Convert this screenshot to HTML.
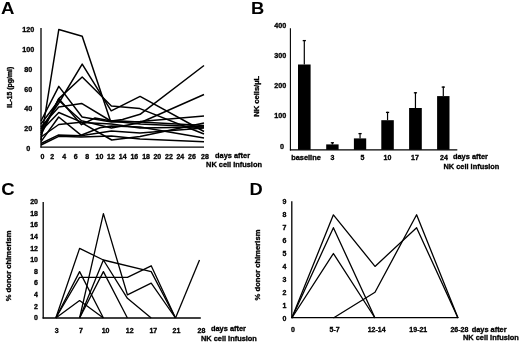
<!DOCTYPE html>
<html><head><meta charset="utf-8"><style>
html,body{margin:0;padding:0;background:#fff;width:520px;height:342px;overflow:hidden}
svg{display:block;will-change:transform}
text{font-family:"Liberation Sans",sans-serif;fill:#000;stroke:#000;stroke-width:0.32px}
polyline,line{fill:none;stroke:#000;stroke-linejoin:round;stroke-linecap:butt}
</style></head><body>
<svg width="520" height="342" viewBox="0 0 520 342">
<text x="0" y="0" font-size="17.4" font-weight="bold" style="stroke-width:0" transform="translate(1.0,13.5) scale(1.07,1)">A</text>
<line x1="41" y1="28" x2="41" y2="147.6" stroke-width="1.3"/>
<line x1="40.4" y1="147.2" x2="204" y2="147.2" stroke-width="1.3"/>
<text x="28.3" y="151.2" font-size="7.2" text-anchor="middle" font-weight="bold" >0</text>
<text x="28.3" y="131.32" font-size="7.2" text-anchor="middle" font-weight="bold" >20</text>
<text x="28.3" y="111.44" font-size="7.2" text-anchor="middle" font-weight="bold" >40</text>
<text x="28.3" y="91.55999999999999" font-size="7.2" text-anchor="middle" font-weight="bold" >60</text>
<text x="28.3" y="71.67999999999999" font-size="7.2" text-anchor="middle" font-weight="bold" >80</text>
<text x="28.3" y="51.800000000000004" font-size="7.2" text-anchor="middle" font-weight="bold" >100</text>
<text x="28.3" y="31.919999999999995" font-size="7.2" text-anchor="middle" font-weight="bold" >120</text>
<text x="42.5" y="159" font-size="7" text-anchor="middle" font-weight="bold" >0</text>
<text x="52.2" y="159" font-size="7" text-anchor="middle" font-weight="bold" >2</text>
<text x="64.2" y="159" font-size="7" text-anchor="middle" font-weight="bold" >4</text>
<text x="75.7" y="159" font-size="7" text-anchor="middle" font-weight="bold" >6</text>
<text x="87.3" y="159" font-size="7" text-anchor="middle" font-weight="bold" >8</text>
<text x="99.4" y="159" font-size="7" text-anchor="middle" font-weight="bold" >10</text>
<text x="111" y="159" font-size="7" text-anchor="middle" font-weight="bold" >12</text>
<text x="122.7" y="159" font-size="7" text-anchor="middle" font-weight="bold" >14</text>
<text x="134.3" y="159" font-size="7" text-anchor="middle" font-weight="bold" >16</text>
<text x="146.1" y="159" font-size="7" text-anchor="middle" font-weight="bold" >18</text>
<text x="157.3" y="159" font-size="7" text-anchor="middle" font-weight="bold" >20</text>
<text x="169" y="159" font-size="7" text-anchor="middle" font-weight="bold" >22</text>
<text x="180.3" y="159" font-size="7" text-anchor="middle" font-weight="bold" >24</text>
<text x="192" y="159" font-size="7" text-anchor="middle" font-weight="bold" >26</text>
<text x="205" y="159" font-size="7" text-anchor="middle" font-weight="bold" >28</text>
<text x="215.1" y="158.3" font-size="7.4" text-anchor="start" font-weight="bold" >days after</text>
<text x="206.1" y="166.8" font-size="7.4" text-anchor="start" font-weight="bold" >NK cell infusion</text>
<text x="0" y="0" font-size="6.9" text-anchor="middle" font-weight="bold" transform="translate(12.0,87.2) rotate(-90)">IL-15 (pg/ml)</text>
<polyline points="41.0,140.0 58.8,29.5 82.2,36.2 110.5,121.0 140.1,124.0 204.0,127.0" stroke-width="1.5"/>
<polyline points="41.0,129.0 58.8,103.0 82.2,64.1 111.2,110.8 140.1,96.4 204.0,131.5" stroke-width="1.5"/>
<polyline points="41.0,135.0 58.8,98.6 82.2,77.0 111.4,106.0 139.9,108.6 204.0,134.0" stroke-width="1.5"/>
<polyline points="41.0,121.0 58.8,86.4 82.1,117.0 111.4,122.0 140.0,121.5 204.0,116.0" stroke-width="1.5"/>
<polyline points="41.0,133.0 58.8,98.7 81.5,124.7 95.0,118.0 111.4,121.0 122.5,119.5 140.1,114.3 204.0,65.5" stroke-width="1.5"/>
<polyline points="41.0,124.0 58.8,100.5 81.5,120.8 111.4,128.0 140.1,122.7 204.0,94.5" stroke-width="1.5"/>
<polyline points="41.0,127.0 58.8,107.0 81.6,103.4 110.0,120.5 140.0,122.0 204.0,125.5" stroke-width="1.5"/>
<polyline points="41.0,137.0 58.8,124.5 81.0,122.3 111.7,140.0 140.0,136.5 204.0,123.0" stroke-width="1.5"/>
<polyline points="41.0,141.6 58.7,117.0 81.0,135.2 100.0,127.8 111.4,126.0 140.0,127.0 204.0,138.0" stroke-width="1.5"/>
<polyline points="41.0,143.5 58.2,135.1 81.0,135.7 111.4,131.0 140.0,133.0 204.0,128.0" stroke-width="1.5"/>
<polyline points="41.0,145.0 58.7,136.3 81.0,137.0 111.4,136.0 140.0,139.0 204.0,141.8" stroke-width="1.5"/>
<polyline points="41.0,131.0 58.8,112.5 82.1,122.4 111.4,124.0 140.0,128.0 204.0,127.0" stroke-width="1.5"/>
<text x="0" y="0" font-size="17.2" font-weight="bold" style="stroke-width:0" transform="translate(251.1,13.7) scale(1.07,1)">B</text>
<line x1="290.4" y1="28.2" x2="290.4" y2="150.4" stroke-width="1.1"/>
<line x1="289.9" y1="149.85" x2="457.3" y2="149.85" stroke-width="1.3"/>
<text x="282.1" y="148.5" font-size="7.2" text-anchor="middle" font-weight="bold" >0</text>
<text x="286.2" y="118.38" font-size="7.2" text-anchor="end" font-weight="bold" >100</text>
<text x="286.2" y="88.25999999999999" font-size="7.2" text-anchor="end" font-weight="bold" >200</text>
<text x="286.2" y="58.14" font-size="7.2" text-anchor="end" font-weight="bold" >300</text>
<text x="286.2" y="28.019999999999996" font-size="7.2" text-anchor="end" font-weight="bold" >400</text>
<rect x="298" y="64.5" width="12.60" height="85.30" fill="#000" stroke="none"/>
<line x1="304.3" y1="40" x2="304.3" y2="64.5" stroke-width="1.2"/>
<line x1="302.7" y1="40.6" x2="305.90000000000003" y2="40.6" stroke-width="1.3"/>
<rect x="326.2" y="144.4" width="12.40" height="5.40" fill="#000" stroke="none"/>
<line x1="332.4" y1="142.2" x2="332.4" y2="144.4" stroke-width="1.2"/>
<line x1="330.79999999999995" y1="142.79999999999998" x2="334.0" y2="142.79999999999998" stroke-width="1.3"/>
<rect x="353.9" y="138.4" width="12.30" height="11.40" fill="#000" stroke="none"/>
<line x1="360.04999999999995" y1="133" x2="360.04999999999995" y2="138.4" stroke-width="1.2"/>
<line x1="358.44999999999993" y1="133.6" x2="361.65" y2="133.6" stroke-width="1.3"/>
<rect x="381.3" y="120.2" width="12.50" height="29.60" fill="#000" stroke="none"/>
<line x1="387.55" y1="111.8" x2="387.55" y2="120.2" stroke-width="1.2"/>
<line x1="385.95" y1="112.39999999999999" x2="389.15000000000003" y2="112.39999999999999" stroke-width="1.3"/>
<rect x="409.1" y="108" width="12.70" height="41.80" fill="#000" stroke="none"/>
<line x1="415.45000000000005" y1="92.2" x2="415.45000000000005" y2="108" stroke-width="1.2"/>
<line x1="413.85" y1="92.8" x2="417.05000000000007" y2="92.8" stroke-width="1.3"/>
<rect x="437.1" y="96.1" width="12.40" height="53.70" fill="#000" stroke="none"/>
<line x1="443.3" y1="86.5" x2="443.3" y2="96.1" stroke-width="1.2"/>
<line x1="441.7" y1="87.1" x2="444.90000000000003" y2="87.1" stroke-width="1.3"/>
<text x="306" y="159.8" font-size="7.4" text-anchor="middle" font-weight="bold" >baseline</text>
<text x="332.5" y="159.8" font-size="7" text-anchor="middle" font-weight="bold" >3</text>
<text x="362.5" y="159.8" font-size="7" text-anchor="middle" font-weight="bold" >5</text>
<text x="387.5" y="159.8" font-size="7" text-anchor="middle" font-weight="bold" >10</text>
<text x="415" y="159.8" font-size="7" text-anchor="middle" font-weight="bold" >17</text>
<text x="444" y="159.8" font-size="7" text-anchor="middle" font-weight="bold" >24</text>
<text x="453" y="159" font-size="7.4" text-anchor="start" font-weight="bold" >days after</text>
<text x="443.5" y="168.5" font-size="7.4" text-anchor="start" font-weight="bold" >NK cell infusion</text>
<text x="0" y="0" font-size="7.6" text-anchor="middle" font-weight="bold" transform="translate(259.3,96.3) rotate(-90)">NK cells/µL</text>
<text x="0" y="0" font-size="17.3" font-weight="bold" style="stroke-width:0" transform="translate(1.2,195.3) scale(1.07,1)">C</text>
<line x1="43.2" y1="202" x2="43.2" y2="318.5" stroke-width="1.3"/>
<line x1="42.6" y1="318" x2="200.8" y2="318" stroke-width="1.3"/>
<text x="38" y="320.1" font-size="7" text-anchor="end" font-weight="bold" >0</text>
<text x="38" y="308.5" font-size="7" text-anchor="end" font-weight="bold" >2</text>
<text x="38" y="296.90000000000003" font-size="7" text-anchor="end" font-weight="bold" >4</text>
<text x="38" y="285.3" font-size="7" text-anchor="end" font-weight="bold" >6</text>
<text x="38" y="273.70000000000005" font-size="7" text-anchor="end" font-weight="bold" >8</text>
<text x="38" y="262.1" font-size="7" text-anchor="end" font-weight="bold" >10</text>
<text x="38" y="250.50000000000003" font-size="7" text-anchor="end" font-weight="bold" >12</text>
<text x="38" y="238.90000000000003" font-size="7" text-anchor="end" font-weight="bold" >14</text>
<text x="38" y="227.3" font-size="7" text-anchor="end" font-weight="bold" >16</text>
<text x="38" y="215.70000000000005" font-size="7" text-anchor="end" font-weight="bold" >18</text>
<text x="38" y="204.10000000000002" font-size="7" text-anchor="end" font-weight="bold" >20</text>
<text x="56.7" y="332.5" font-size="7" text-anchor="middle" font-weight="bold" >3</text>
<text x="80.9" y="332.5" font-size="7" text-anchor="middle" font-weight="bold" >7</text>
<text x="105.6" y="332.5" font-size="7" text-anchor="middle" font-weight="bold" >10</text>
<text x="129.7" y="332.5" font-size="7" text-anchor="middle" font-weight="bold" >12</text>
<text x="153.3" y="332.5" font-size="7" text-anchor="middle" font-weight="bold" >17</text>
<text x="176.5" y="332.5" font-size="7" text-anchor="middle" font-weight="bold" >21</text>
<text x="201.5" y="332.5" font-size="7" text-anchor="middle" font-weight="bold" >28</text>
<text x="211" y="331.3" font-size="7.4" text-anchor="start" font-weight="bold" >days after</text>
<text x="201" y="340.6" font-size="7.4" text-anchor="start" font-weight="bold" >NK cell infusion</text>
<text x="0" y="0" font-size="7.65" text-anchor="middle" font-weight="bold" transform="translate(11.3,265.9) rotate(-90)">% donor chimerism</text>
<polyline points="55.8,318.0 79.6,248.4 103.4,260.0 151.2,271.6 175.5,318.0" stroke-width="1.3"/>
<polyline points="79.6,318.0 103.4,213.6 127.4,294.8 151.2,283.2 175.5,318.0" stroke-width="1.3"/>
<polyline points="55.8,318.0 79.6,271.6 103.4,318.0" stroke-width="1.3"/>
<polyline points="55.8,318.0 79.6,277.4 127.4,277.4 151.2,265.8 175.5,318.0" stroke-width="1.3"/>
<polyline points="55.8,318.0 79.6,300.6 103.4,318.0" stroke-width="1.3"/>
<polyline points="79.6,318.0 103.4,271.6 127.4,318.0" stroke-width="1.3"/>
<polyline points="79.6,318.0 103.4,260.0 127.4,298.3 151.2,318.0" stroke-width="1.3"/>
<polyline points="175.5,318.0 199.5,260.0" stroke-width="1.3"/>
<text x="0" y="0" font-size="17.1" font-weight="bold" style="stroke-width:0" transform="translate(249.6,195.3) scale(1.07,1)">D</text>
<line x1="291.8" y1="201.2" x2="291.8" y2="318.3" stroke-width="1.3"/>
<line x1="291.3" y1="317.7" x2="458.3" y2="317.7" stroke-width="1.3"/>
<text x="286.4" y="320.5" font-size="7" text-anchor="end" font-weight="bold" >0</text>
<text x="286.4" y="307.6" font-size="7" text-anchor="end" font-weight="bold" >1</text>
<text x="286.4" y="294.7" font-size="7" text-anchor="end" font-weight="bold" >2</text>
<text x="286.4" y="281.8" font-size="7" text-anchor="end" font-weight="bold" >3</text>
<text x="286.4" y="268.9" font-size="7" text-anchor="end" font-weight="bold" >4</text>
<text x="286.4" y="256.0" font-size="7" text-anchor="end" font-weight="bold" >5</text>
<text x="286.4" y="243.1" font-size="7" text-anchor="end" font-weight="bold" >6</text>
<text x="286.4" y="230.2" font-size="7" text-anchor="end" font-weight="bold" >7</text>
<text x="286.4" y="217.3" font-size="7" text-anchor="end" font-weight="bold" >8</text>
<text x="286.4" y="204.39999999999998" font-size="7" text-anchor="end" font-weight="bold" >9</text>
<text x="293" y="332" font-size="7" text-anchor="middle" font-weight="bold" >0</text>
<text x="334.6" y="332" font-size="7" text-anchor="middle" font-weight="bold" >5-7</text>
<text x="376.6" y="332" font-size="7" text-anchor="middle" font-weight="bold" >12-14</text>
<text x="418.3" y="332" font-size="7" text-anchor="middle" font-weight="bold" >19-21</text>
<text x="459.4" y="332" font-size="7" text-anchor="middle" font-weight="bold" >26-28</text>
<text x="471.7" y="331.6" font-size="7.4" text-anchor="start" font-weight="bold" >days after</text>
<text x="463" y="340.3" font-size="7.4" text-anchor="start" font-weight="bold" >NK cell infusion</text>
<text x="0" y="0" font-size="7.65" text-anchor="middle" font-weight="bold" transform="translate(260.4,265) rotate(-90)">% donor chimerism</text>
<polyline points="291.8,318.0 333.4,214.8 375.0,266.4 416.6,227.7 458.0,318.0" stroke-width="1.3"/>
<polyline points="291.8,318.0 333.4,227.7 375.0,318.0" stroke-width="1.3"/>
<polyline points="291.8,318.0 333.4,253.5 375.0,318.0" stroke-width="1.3"/>
<polyline points="333.4,318.0 375.0,292.2 416.6,214.8 458.0,318.0" stroke-width="1.3"/>
</svg></body></html>
